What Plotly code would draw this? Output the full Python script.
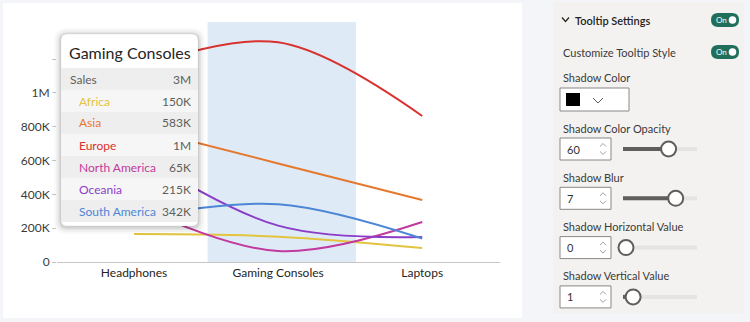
import plotly.graph_objects as go

# ---------------- data ----------------
categories = ["Headphones", "Gaming Consoles", "Laptops"]
regions = ["Africa", "Asia", "Europe", "North America", "Oceania", "South America"]
africa = [165000, 150000, 83000]
asia = [800000, 583000, 367000]
europe = [1140000, 1300000, 864000]
north_america = [337000, 65000, 237000]
oceania = [650000, 215000, 148000]
south_america = [260000, 342000, 139000]
series = [africa, asia, europe, north_america, oceania, south_america]
colors = ["#E3C43E", "#E6782E", "#D9312E", "#C2399F", "#8B3DC8", "#4E86D6"]

ytick_vals = [0, 200000, 400000, 600000, 800000, 1000000, 1200000]
ytick_text = ["0", "200K", "400K", "600K", "800K", "1M", ""]

hover_index = 1  # Gaming Consoles highlighted
measure_name = "Sales"

panel_title = "Tooltip Settings"
panel_toggle_label = "Customize Tooltip Style"
shadow_color_label = "Shadow Color"
slider_labels = ["Shadow Color Opacity", "Shadow Blur", "Shadow Horizontal Value", "Shadow Vertical Value"]
slider_values = [60, 7, 0, 1]
slider_max = [100, 10, 10, 10]

FONT = "Segoe UI, Lato, sans-serif"

# ---------------- geometry helpers (pixel -> paper) ----------------
W, H = 750, 322
L, R, T, B = 57, 500, 22, 262


def px(x):
    return (x - L) / (R - L)


def py(y):
    return (B - y) / (B - T)


def pt(x, y):
    return f"{px(x):.5f},{py(y):.5f}"


def rrect_path(x0, y0, x1, y1, r):
    return (f"M {pt(x0 + r, y0)} L {pt(x1 - r, y0)} Q {pt(x1, y0)} {pt(x1, y0 + r)} "
            f"L {pt(x1, y1 - r)} Q {pt(x1, y1)} {pt(x1 - r, y1)} "
            f"L {pt(x0 + r, y1)} Q {pt(x0, y1)} {pt(x0, y1 - r)} "
            f"L {pt(x0, y0 + r)} Q {pt(x0, y0)} {pt(x0 + r, y0)} Z")


shapes = []
annotations = []


def add_rrect(x0, y0, x1, y1, r, fill, line_color=None, line_width=0, layer="above"):
    shapes.append(dict(type="path", xref="paper", yref="paper", path=rrect_path(x0, y0, x1, y1, r),
                       fillcolor=fill, line=dict(color=line_color or fill, width=line_width), layer=layer))


def add_rect(x0, y0, x1, y1, fill, line_color=None, line_width=0, layer="above"):
    shapes.append(dict(type="rect", xref="paper", yref="paper", x0=px(x0), x1=px(x1), y0=py(y1), y1=py(y0),
                       fillcolor=fill, line=dict(color=line_color or fill, width=line_width), layer=layer))


def add_circle(cx, cy, r, fill, line_color, line_width):
    shapes.append(dict(type="circle", xref="paper", yref="paper", x0=px(cx - r), x1=px(cx + r),
                       y0=py(cy + r), y1=py(cy - r), fillcolor=fill,
                       line=dict(color=line_color, width=line_width), layer="above"))


def add_polyline(points, color, width):
    path = "M " + " L ".join(pt(x, y) for x, y in points)
    shapes.append(dict(type="path", xref="paper", yref="paper", path=path,
                       line=dict(color=color, width=width), layer="above"))


def add_text(text, x, y, size=11, color="#252423", xanchor="left", weight=None):
    f = dict(family=FONT, size=size, color=color)
    if weight:
        f["weight"] = weight
    annotations.append(dict(text=text, x=px(x), y=py(y), xref="paper", yref="paper",
                            xanchor=xanchor, yanchor="middle", showarrow=False, font=f))


def fmt(v):
    if v >= 1e6:
        return f"{round(v / 1e6)}M"
    return f"{round(v / 1e3)}K"


# ---------------- backgrounds ----------------
add_rect(3, 3, 522, 318, "#ffffff", layer="below")
add_rect(553, 2, 744, 313, "#f3f2f1", layer="below")

# highlighted category band
shapes.append(dict(type="rect", xref="x", yref="y domain", x0=hover_index - 0.49, x1=hover_index + 0.54,
                   y0=0, y1=1, fillcolor="#deebf7", line=dict(width=0), layer="below"))

fig = go.Figure()
for name, vals, col in zip(regions, series, colors):
    fig.add_trace(go.Scatter(x=categories, y=vals, mode="lines", name=name,
                             line=dict(color=col, width=2, shape="spline", smoothing=1.0),
                             hoverinfo="skip", showlegend=False))

# ---------------- tooltip ----------------
tx0, ty0, tx1, ty1 = 61, 34, 198, 226
for grow, alpha in [(7, 0.025), (5, 0.035), (3, 0.05), (1.5, 0.07)]:
    add_rrect(tx0 - grow, ty0 - grow + 1, tx1 + grow, ty1 + grow + 1, 6 + grow, f"rgba(0,0,0,{alpha})")
add_rrect(tx0, ty0, tx1, ty1, 6, "#ffffff", "rgba(0,0,0,0.10)", 0.6)
add_text(categories[hover_index], (tx0 + tx1) / 2, 52, size=16, color="#252423", xanchor="center")

row_top = 68
row_h = 22
vals_hover = [s[hover_index] for s in series]
rows = [(measure_name, fmt(sum(vals_hover)), "#605e5c", 68)] + \
       [(n, fmt(v), c, 77) for n, v, c in zip(regions, vals_hover, colors)]
for i, (label, value, col, lx) in enumerate(rows):
    y0 = row_top + i * row_h
    fill = "#eeeeee" if i % 2 == 0 else "#f6f6f6"
    add_rect(tx0, y0, tx1, y0 + row_h, fill)
    add_text(label, lx, y0 + row_h / 2, size=12, color=col)
    add_text(value, 193, y0 + row_h / 2, size=12, color="#605e5c", xanchor="right")

# ---------------- settings panel ----------------
add_polyline([(562, 17.5), (565.5, 21.5), (569, 17.5)], "#252423", 1.2)
add_text(panel_title, 573, 20, size=11, color="#252423", weight=600)


def toggle(x0, y0):
    add_rrect(x0, y0, x0 + 28, y0 + 14, 7, "#1f6f5a")
    add_text("On", x0 + 3, y0 + 7, size=8, color="#ffffff")
    add_circle(x0 + 21.5, y0 + 7, 3.8, "#ffffff", "#ffffff", 0)


toggle(711, 13)
add_text(panel_toggle_label, 561, 52, size=11, color="#3b3a39")
toggle(711, 45)

add_text(shadow_color_label, 561, 78, size=11, color="#3b3a39")
add_rect(560, 88, 629, 111, "#ffffff", "#8a8886", 1)
add_rect(566, 93, 580, 106, "#000000")
add_polyline([(593, 98), (598, 103), (603, 98)], "#605e5c", 1)

track_x0, track_x1 = 626, 697
for i, (lab, val, mx) in enumerate(zip(slider_labels, slider_values, slider_max)):
    ly = 128 + i * 49.3
    by = ly + 10
    cy = by + 11
    add_text(lab, 561, ly, size=11, color="#3b3a39")
    add_rect(560, by, 611, by + 22, "#ffffff", "#8a8886", 1)
    add_text(str(val), 565, cy, size=11, color="#323130")
    add_polyline([(600, cy - 2.5), (603, cy - 5.5), (606, cy - 2.5)], "#8a8886", 0.8)
    add_polyline([(600, cy + 2.5), (603, cy + 5.5), (606, cy + 2.5)], "#8a8886", 0.8)
    kx = track_x0 + (val / mx) * (track_x1 - track_x0)
    shapes.append(dict(type="line", xref="paper", yref="paper", x0=px(track_x0), x1=px(track_x1),
                       y0=py(cy), y1=py(cy), line=dict(color="#e6e4e2", width=4), layer="above"))
    if kx > track_x0 + 1:
        shapes.append(dict(type="line", xref="paper", yref="paper", x0=px(623), x1=px(kx),
                           y0=py(cy), y1=py(cy), line=dict(color="#605e5c", width=4), layer="above"))
    add_circle(kx, cy, 7.5, "#ffffff", "#605e5c", 2)

fig.update_layout(
    width=W, height=H,
    margin=dict(l=L, r=W - R, t=T, b=H - B),
    paper_bgcolor="#f4f5f8",
    plot_bgcolor="rgba(0,0,0,0)",
    font=dict(family=FONT, size=12, color="#252423"),
    xaxis=dict(range=[-0.535, 2.54], showgrid=False, zeroline=False, showline=True,
               linecolor="#c8c6c4", linewidth=1, ticks="", tickfont=dict(size=12, color="#252423"),
               fixedrange=True),
    yaxis=dict(range=[0, 1420000], tickvals=ytick_vals, ticktext=ytick_text, showgrid=False,
               zeroline=False, showline=False, ticks="outside", ticklen=4, tickcolor="#c8c6c4",
               tickfont=dict(size=12, color="#3b3a39"), fixedrange=True),
    shapes=shapes,
    annotations=annotations,
    showlegend=False,
)

fig.write_html("out.html")
